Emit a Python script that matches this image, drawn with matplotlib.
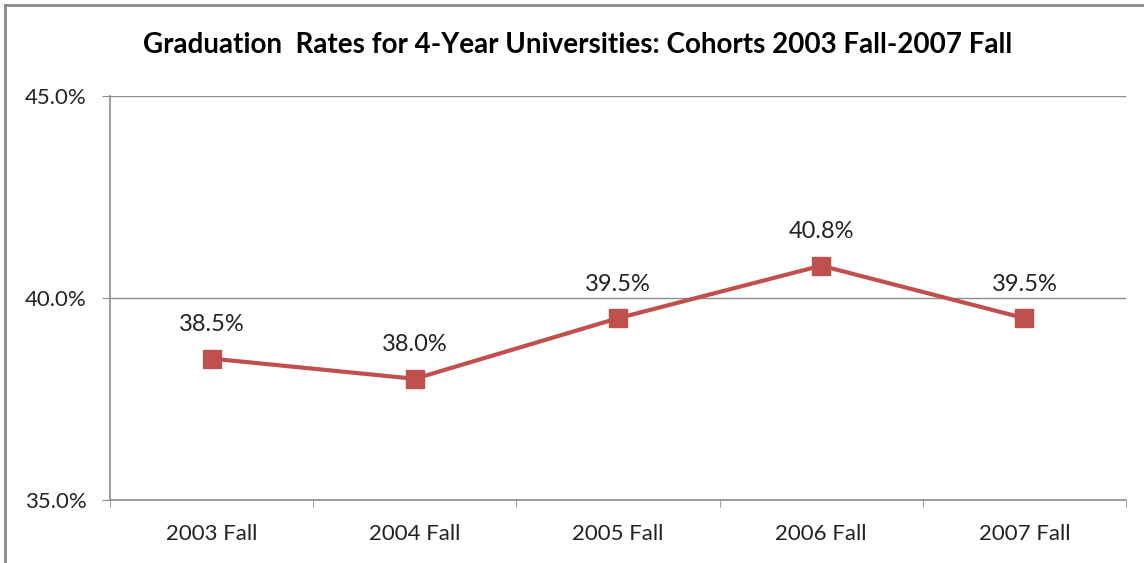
import matplotlib.pyplot as plt
from matplotlib.lines import Line2D

cohorts = ['2003 Fall', '2004 Fall', '2005 Fall', '2006 Fall', '2007 Fall']
rates = [38.5, 38.0, 39.5, 40.8, 39.5]
yticks = [35.0, 40.0, 45.0]

W, H = 1144, 563
fig = plt.figure(figsize=(W / 100, H / 100), dpi=100)
plt.rcParams['font.family'] = ['Lato', 'DejaVu Sans']

# axes box in pixels: left 110, right 1126, top 96, bottom 500
ax = fig.add_axes([110 / W, 1 - 500 / H, (1126 - 110) / W, (500 - 96) / H])

x = list(range(len(cohorts)))
ax.plot(x, rates, color='#C0504D', lw=3, marker='s', markersize=13,
        markerfacecolor='#C0504D', markeredgecolor='#C0504D', zorder=3)
for xi, r in zip(x, rates):
    ax.annotate('%.1f%%' % r, (xi, r), xytext=(0, 17), textcoords='offset points',
                ha='center', va='bottom', fontsize=17, color='#222222')

ax.set_xlim(-0.5, len(cohorts) - 0.5)
ax.set_ylim(35, 45)
ax.set_yticks(yticks)
ax.set_yticklabels(['%.1f%%' % v for v in yticks], fontsize=16, color='#222222')
ax.yaxis.grid(True, color='#8c8c8c', lw=1)
ax.set_axisbelow(True)

ax.set_xticks(x)
ax.set_xticklabels(cohorts, fontsize=16, color='#222222')
ax.set_xticks([i + 0.5 for i in range(-1, len(cohorts))], minor=True)
ax.tick_params(axis='x', which='major', length=0, pad=17)
ax.tick_params(axis='x', which='minor', length=5, color='#8c8c8c', direction='out')
ax.tick_params(axis='y', length=6, color='#8c8c8c', pad=11)

for s in ['top', 'right']:
    ax.spines[s].set_visible(False)
for s in ['left', 'bottom']:
    ax.spines[s].set_color('#8c8c8c')
    ax.spines[s].set_linewidth(1.2)

fig.text(578 / W, 1 - 45 / H, 'Graduation  Rates for 4-Year Universities: Cohorts 2003 Fall-2007 Fall',
         ha='center', va='center', fontsize=20, fontweight='bold', color='black')

# outer chart border (top and left visible)
fig.add_artist(Line2D([5 / W, 1], [1 - 5 / H, 1 - 5 / H], color='#8a8a8a', lw=2))
fig.add_artist(Line2D([5 / W, 5 / W], [0, 1 - 5 / H], color='#8a8a8a', lw=2))

fig.savefig('out.png', dpi=100)
